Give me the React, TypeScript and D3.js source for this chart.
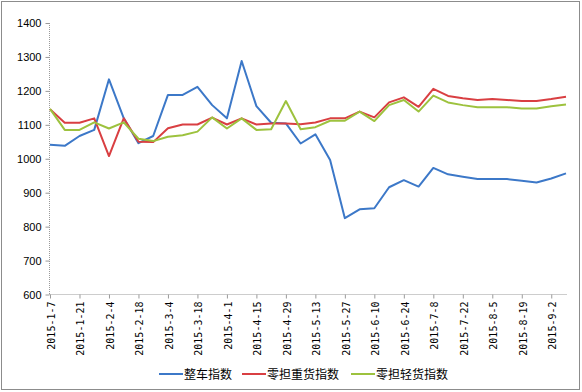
import React, { useEffect, useRef } from 'react';
import * as d3 from 'd3';

// weekly dates
const dates = [
  '2015-1-7', '2015-1-14', '2015-1-21', '2015-1-28', '2015-2-4', '2015-2-11',
  '2015-2-18', '2015-2-25', '2015-3-4', '2015-3-11', '2015-3-18', '2015-3-25',
  '2015-4-1', '2015-4-8', '2015-4-15', '2015-4-22', '2015-4-29', '2015-5-6',
  '2015-5-13', '2015-5-20', '2015-5-27', '2015-6-3', '2015-6-10', '2015-6-17',
  '2015-6-24', '2015-7-1', '2015-7-8', '2015-7-15', '2015-7-22', '2015-7-29',
  '2015-8-5', '2015-8-12', '2015-8-19', '2015-8-26', '2015-9-2', '2015-9-9',
];

const truckload = [
  1041, 1038, 1067, 1085, 1234, 1120, 1046, 1067, 1188, 1188, 1212, 1158,
  1119, 1288, 1155, 1106, 1104, 1045, 1072, 996, 825, 851, 854, 916,
  937, 918, 973, 954, 947, 940, 940, 940, 935, 930, 942, 957,
];

const ltlHeavy = [
  1146, 1106, 1106, 1119, 1008, 1119, 1050, 1049, 1090, 1101, 1101, 1121,
  1101, 1119, 1101, 1104, 1104, 1102, 1107, 1119, 1119, 1139, 1122, 1166,
  1181, 1153, 1206, 1185, 1178, 1173, 1176, 1173, 1170, 1170, 1176, 1183,
];

const ltlLight = [
  1147, 1085, 1085, 1107, 1089, 1107, 1059, 1052, 1065, 1069, 1080, 1122,
  1089, 1119, 1085, 1087, 1170, 1087, 1093, 1112, 1112, 1139, 1111, 1158,
  1173, 1139, 1186, 1166, 1158, 1152, 1152, 1152, 1148, 1148, 1155, 1160,
];

const yTicks = [600, 700, 800, 900, 1000, 1100, 1200, 1300, 1400];

const series = [
  { name: '整车指数', values: truckload, color: '#3C78C8' },
  { name: '零担重货指数', values: ltlHeavy, color: '#D93F42' },
  { name: '零担轻货指数', values: ltlLight, color: '#9DC23E' },
];

const App = () => {
  const svgRef = useRef<SVGSVGElement>(null);

  useEffect(() => {
    const width = 582;
    const height = 392;
    const svg = d3.select(svgRef.current);
    svg.selectAll('*').remove();
    svg.attr('width', width).attr('height', height);

    // outer frame
    svg.append('rect')
      .attr('x', 1.5).attr('y', 1.5)
      .attr('width', 578).attr('height', 388)
      .attr('fill', '#fff')
      .attr('stroke', '#8c8c8c');

    const x = d3.scalePoint<string>().domain(dates).range([50, 566]);
    const y = d3.scaleLinear().domain([600, 1400]).range([294.5, 23]);
    const axisColor = '#9a9a9a';

    // Y axis
    const yAxis = svg.append('g')
      .attr('transform', 'translate(49.5,0)')
      .call(d3.axisLeft(y).tickValues(yTicks).tickSize(4).tickFormat(d3.format('d')));
    yAxis.select('.domain').attr('stroke', axisColor).attr('stroke-dasharray', '1,1').attr('d', `M0,${y(1400)}V${y(600)}`);
    yAxis.selectAll('.tick line').attr('stroke', axisColor);
    yAxis.selectAll('.tick text')
      .attr('x', -8)
      .style('font-family', 'Liberation Sans, Arial, sans-serif')
      .style('font-size', '11px')
      .attr('fill', '#000');

    // X axis
    const xAxis = svg.append('g')
      .attr('transform', `translate(0,${y(600)})`)
      .call(d3.axisBottom(x).tickValues(dates.filter((_, i) => i % 2 === 0)).tickSize(4).tickSizeOuter(0));
    xAxis.select('.domain').attr('stroke', axisColor).attr('stroke-dasharray', '1,1').attr('d', 'M49.5,0H567');
    xAxis.selectAll('.tick line').attr('stroke', axisColor);
    xAxis.selectAll('.tick text')
      .attr('transform', 'rotate(-90)')
      .attr('x', -7)
      .attr('y', 1)
      .attr('dy', '0.35em')
      .attr('text-anchor', 'end')
      .style('font-family', 'DejaVu Sans Mono, monospace')
      .style('font-size', '10px')
      .attr('fill', '#000');

    // lines
    const line = d3.line<number>()
      .x((_, i) => x(dates[i]) as number)
      .y(d => y(d));

    svg.selectAll('.series')
      .data(series)
      .enter()
      .append('path')
      .attr('class', 'series')
      .attr('fill', 'none')
      .attr('stroke', d => d.color)
      .attr('stroke-width', 2)
      .attr('stroke-linejoin', 'round')
      .attr('d', d => line(d.values));

    // legend
    const legendX = [159, 242, 351];
    const legend = svg.selectAll('.legend')
      .data(series)
      .enter()
      .append('g')
      .attr('class', 'legend')
      .attr('transform', (_, i) => `translate(${legendX[i]},374)`);

    legend.append('line')
      .attr('x1', 0).attr('x2', 24)
      .attr('y1', 0).attr('y2', 0)
      .attr('stroke', d => d.color)
      .attr('stroke-width', 2);

    legend.append('text')
      .attr('x', 25)
      .attr('dy', '0.38em')
      .style('font-family', 'Noto Sans CJK SC, sans-serif')
      .style('font-size', '12px')
      .attr('fill', '#000')
      .text(d => d.name);
  }, []);

  return (
    <svg ref={svgRef} style={{ position: 'absolute', left: 0, top: 0 }}></svg>
  );
};

export default App;
